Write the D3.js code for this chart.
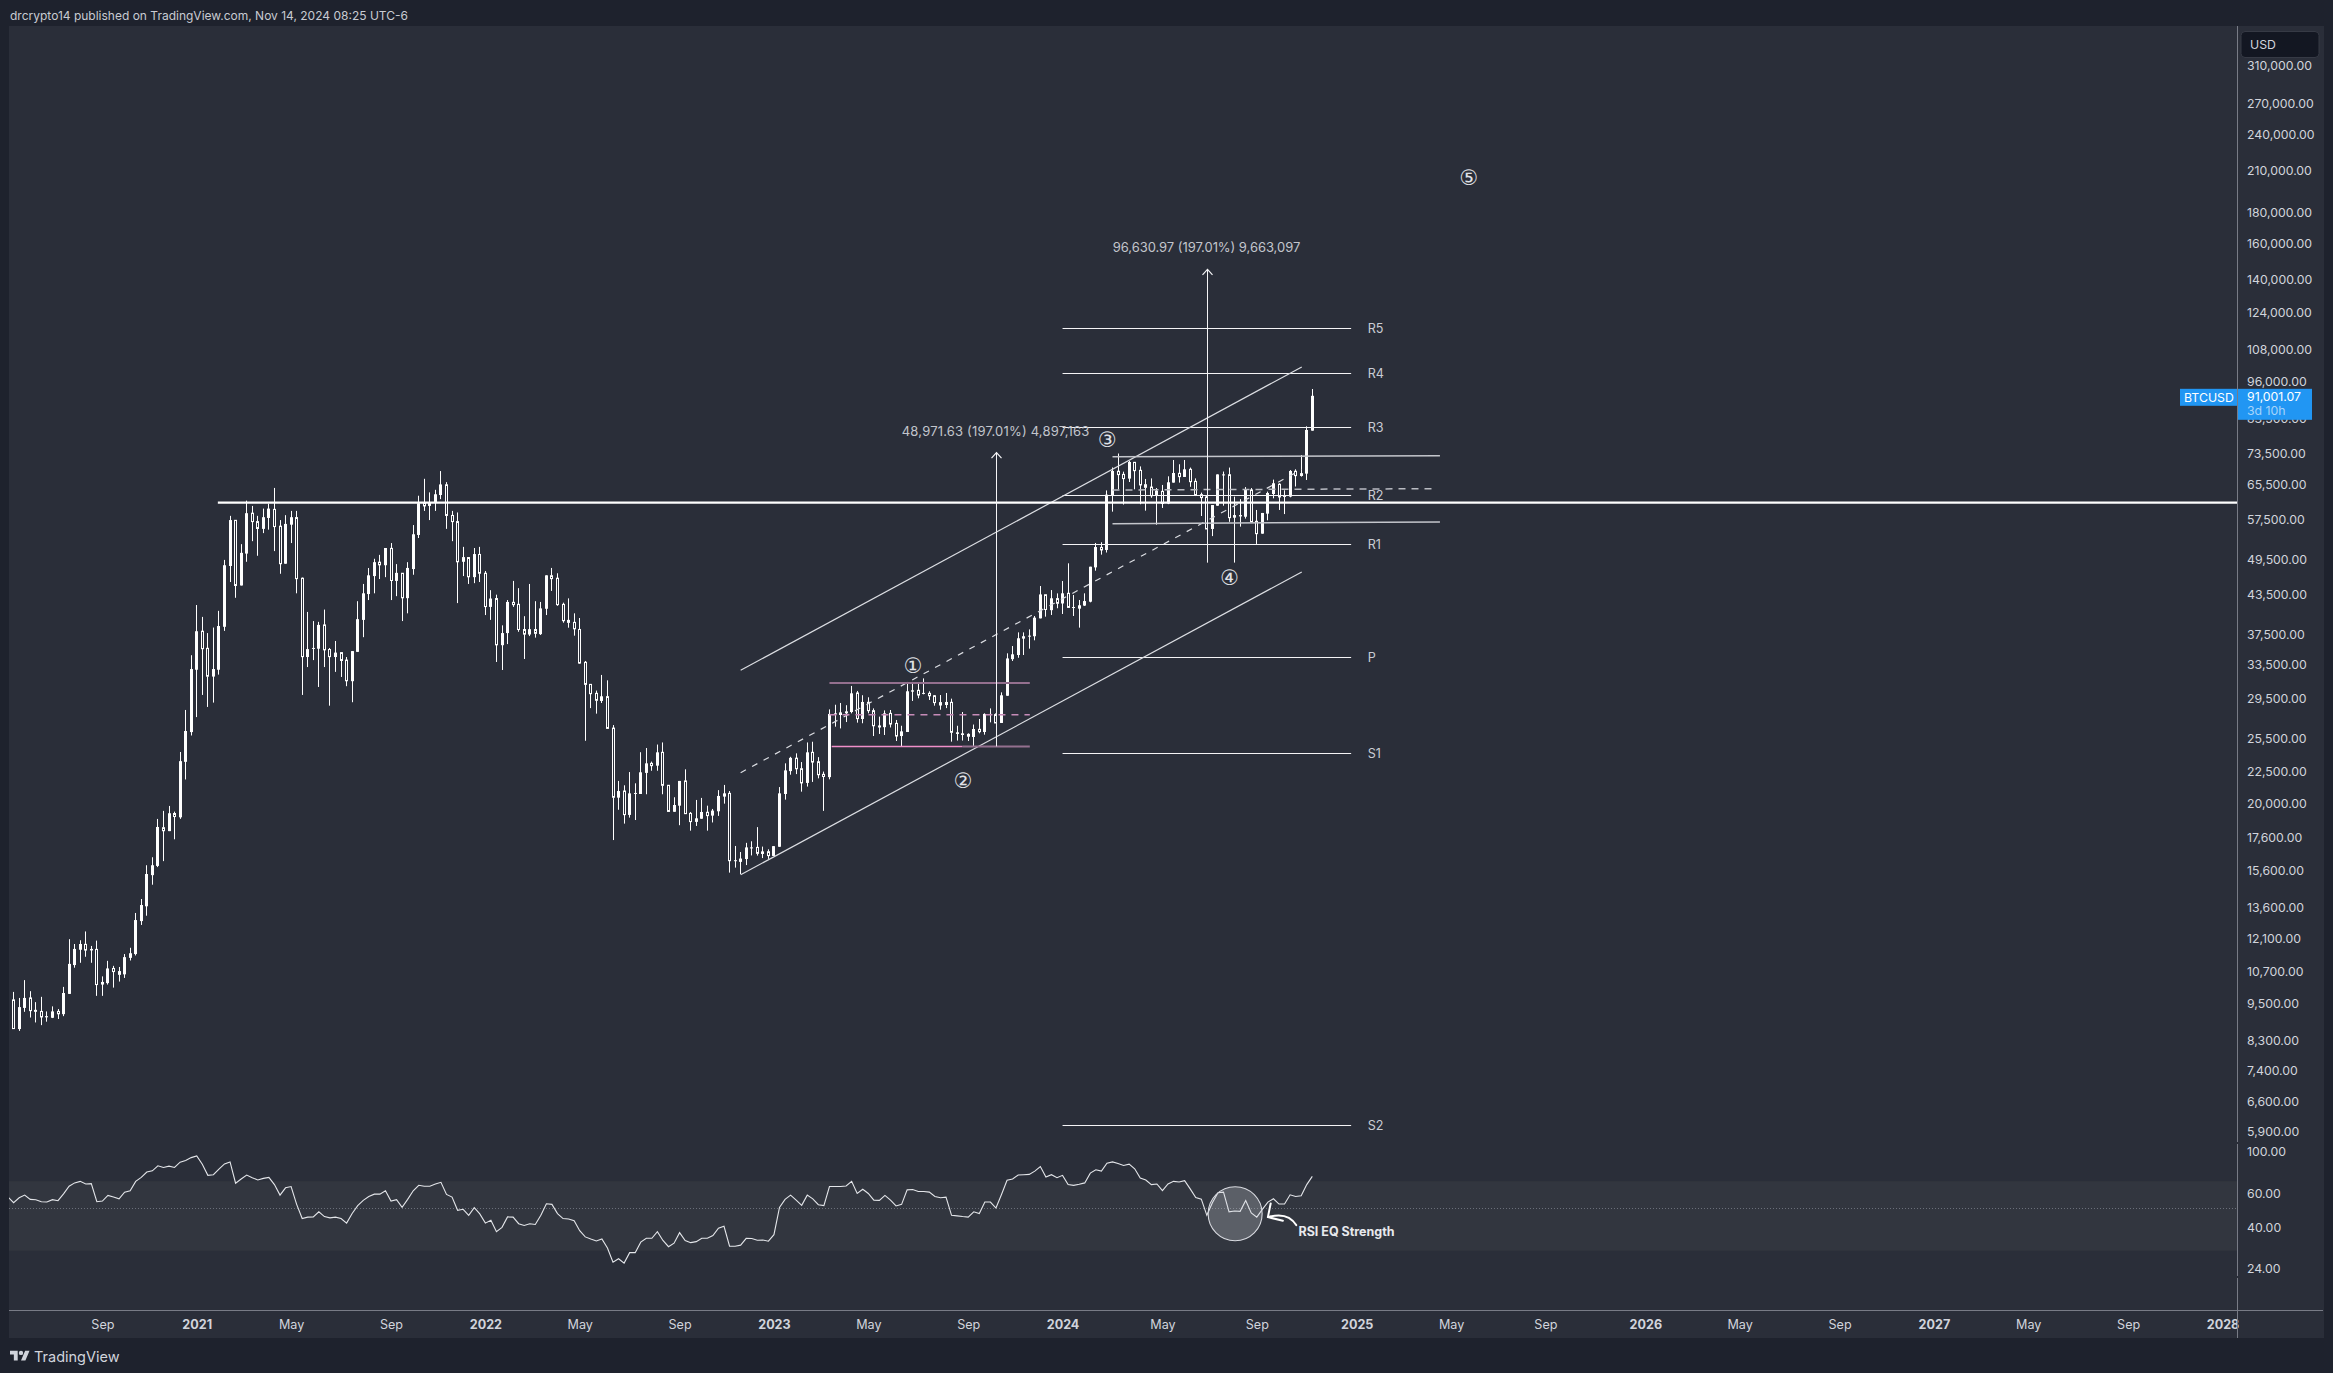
<!DOCTYPE html>
<html>
<head>
<meta charset="utf-8">
<script src="https://cdn.jsdelivr.net/npm/d3@7"></script>
<style>
  html, body { margin: 0; padding: 0; background: #1e222d; }
  svg { display: block; }
  text { font-family: Inter, "Noto Sans", sans-serif; }
</style>
</head>
<body>
<div id="chart"></div>
<script>
// weekly candles, first bar is the week of 2020-05-18
const highs = [9930,9710,10375,9957,9560,9750,9236,9410,9317,10117,12080,11865,12032,12432,11780,12015,10520,11145,10940,10895,11430,11700,13315,14025,15900,16380,18885,19460,19820,19405,24220,28315,34705,41820,40015,37680,38460,40925,49455,58250,57290,52435,61640,60440,58250,59845,60960,64620,57345,58400,59330,59330,46320,40760,39400,39285,41120,35650,36590,35040,34470,35240,42420,45225,47990,49660,50390,51690,52650,48690,47060,49040,56290,62770,66850,63560,64170,68800,66030,59330,58990,51910,49890,51690,51910,47460,44195,43460,38780,42600,45740,44530,40120,45225,42420,42300,46700,48000,47060,42190,42870,40550,39850,33970,31140,30430,32250,31610,26770,21750,21400,22480,21560,24200,24580,23370,24900,25095,21400,20470,21750,22710,19380,20265,20420,19840,19600,21020,21430,20950,17080,16700,17280,17380,18320,17040,16870,17070,21260,23220,23790,24100,23330,25095,25160,23760,22520,28375,28870,29060,28820,30960,30390,29910,29680,28480,27620,28270,28310,27280,26700,31420,31420,31380,31840,30350,29930,29930,30160,29530,26700,28100,25960,26820,27380,27960,28480,27960,30230,34950,35910,37780,37780,38200,40140,44880,43450,44210,43670,45720,48830,43410,42610,43680,48220,52670,52800,64020,69730,73440,68650,71420,71070,70000,66810,66950,64600,65340,67470,71690,70560,71690,69700,66950,63500,62940,60640,67950,68680,69700,62560,61990,64830,64600,59540,58880,63740,66650,65750,64060,69060,69250,73020,81250,93330];
const opens = [9640,8650,9357,9710,9222,9236,9035,9020,9236,9142,9857,10972,11615,11850,11585,11630,10205,10260,10835,10710,10600,11270,11430,12920,13650,15325,15860,18280,18050,19270,19000,23350,26080,32880,37940,35605,32055,32880,38570,48350,57290,44970,50630,58830,57020,55500,57800,59670,56055,48760,56370,57880,46200,34470,35550,35550,38840,35450,34470,35040,34080,31510,35140,39570,43560,46570,49040,48485,51620,45740,47060,42900,47800,54260,61050,60440,61230,62940,65380,58340,57020,49110,49890,46385,50470,47060,41530,42840,36020,37680,42240,41930,38180,37480,38180,37530,41240,46630,46200,41925,39500,39210,38190,33800,31140,30120,29280,29750,26470,20440,20950,19170,20730,20720,22410,23220,23020,24190,21400,19395,19840,21750,19280,18680,18900,19360,19120,19430,20520,20770,16140,16100,16270,16950,16990,16580,16720,16460,17030,20720,22560,23670,22760,21590,24190,23360,22290,22060,27900,27790,27960,28100,30160,27380,29130,28240,26530,26560,27960,26940,25700,26090,30310,30460,30090,30120,29850,29100,28840,29130,25900,25800,25860,25610,26350,26090,27830,27830,26980,29850,34200,34730,36910,37240,37240,39800,43450,41030,42830,42060,43680,41430,41260,41730,42340,48100,51800,51320,62900,68750,67960,66900,71070,68990,65400,64830,62940,63800,60990,65910,68230,67310,69250,66220,63020,62490,55480,60490,67710,67870,57860,58130,58060,64140,57080,54520,58730,63180,65510,62570,62570,68750,67560,68150,79950];
const closes = [8665,9385,9710,9263,9290,9048,9075,9236,9155,9890,11020,11650,11865,11600,11650,10205,10305,10835,10710,10600,11300,11465,12970,13715,15390,15900,18330,18075,19290,19055,23410,26185,32965,37940,35555,32100,32965,38680,48485,57345,44970,50770,58830,57020,55580,57960,59845,55975,48760,56530,57960,46130,34520,35500,35655,38840,35400,34520,35040,34030,31560,35240,39680,43680,46700,49040,48555,51690,45810,47130,42960,48000,54400,61050,60440,61230,63120,65470,58340,57020,49110,49970,46450,50540,47060,41580,42840,36070,37680,42300,41880,38180,37530,38230,37640,41300,46700,46130,41880,39455,39210,38285,33700,31140,30080,29350,29790,26440,20470,20950,19190,20770,20800,22460,23220,23020,24190,21400,19420,19890,21750,19260,18700,18930,19380,19120,19480,20570,20770,16170,16200,16300,16990,16990,16620,16740,16480,17070,20770,22620,23700,22760,21590,24190,23330,22260,22110,27900,27960,28060,28170,30120,27420,29170,28240,26700,26730,27960,26870,25700,26150,30350,30460,29930,30170,29850,29100,28840,29170,26060,26060,25960,25680,26380,26120,27900,27900,26980,29900,34290,34820,36960,37240,37320,39900,43500,41130,42880,42090,43680,41450,41510,41780,42440,48220,51880,51320,63030,68830,67900,66900,71160,68900,65340,64770,62780,63970,60990,65990,68310,67390,69250,66140,62940,62330,55480,60640,67950,67950,57860,58420,58420,64300,57000,54520,58880,63420,65750,62490,62730,68830,67640,68270,80150,91001];
const lows = [8665,8590,9222,9028,8865,8777,8890,9010,8980,9075,9857,10865,11065,11315,11065,9785,9785,10205,10090,10320,10460,11160,11370,12735,13180,14790,15790,16145,18050,17510,18890,21870,25750,27575,29940,28635,29100,32290,37990,45550,42960,44970,49110,53020,50220,54630,55340,51100,46970,48760,52650,43680,29940,33210,34080,30840,33210,28770,32620,32010,30930,29140,35140,37110,42600,43680,46060,46385,42600,43220,39400,40550,46800,53640,59330,57345,59330,61980,55500,53020,42120,46570,45225,45360,45550,40290,39570,33840,32850,36170,41530,37860,34220,37260,37050,37420,40290,44070,41700,39160,38440,37320,33630,25250,28510,27930,29060,26440,17460,19540,18560,18980,18810,20720,20700,22590,22590,20700,19420,19395,18450,19260,18080,18400,18900,18080,18640,19100,19990,15470,15760,15385,15910,16490,16480,16330,16280,16460,17030,20290,22260,22310,20900,21300,21670,21960,19460,21880,26610,26440,27070,27960,27010,26950,27960,25700,25900,25800,26530,25230,24700,26090,29280,29570,30010,29385,28770,28340,28510,25170,25270,25270,25230,24760,25960,25830,27040,26980,26980,29850,33970,34380,34730,35560,36680,39800,40050,40300,41320,40450,41430,40150,38450,41680,42240,47510,50430,50830,59170,64300,60750,66060,64300,60820,59390,62310,56370,59990,60840,65910,65910,67310,64890,62700,58220,55480,54030,60490,60490,56970,48960,55960,57660,57000,52470,54520,57300,62170,59540,58640,62410,64960,67390,66560,79950];

// weekly RSI, first point sits one week before the first candle
const rsiValues = [57.7,53.9,57.2,59.1,56.1,55.9,54.5,54.3,55.9,55.2,60.0,65.9,68.6,69.9,67.7,68.0,54.5,55.0,58.9,57.7,56.5,61.3,62.3,69.9,73.4,78.3,79.5,84.5,82.8,84.2,82.8,88.3,90.1,93.4,95.3,86.2,75.2,75.8,81.2,86.5,88.6,68.3,71.9,75.5,73.1,71.1,72.5,73.4,67.2,59.1,64.6,65.6,52.8,44.4,45.2,45.3,48.2,45.5,44.8,45.2,44.4,42.0,47.2,52.0,55.4,58.1,59.8,59.8,62.3,55.0,55.9,50.9,56.1,62.3,66.6,65.9,65.9,67.7,69.1,59.6,57.7,49.1,49.7,46.2,50.7,47.0,42.0,43.5,37.8,39.9,45.3,45.2,41.7,40.8,41.7,41.3,46.2,53.2,52.8,47.2,44.4,44.2,43.2,38.3,35.5,34.6,33.8,34.6,31.0,26.1,27.2,25.8,29.3,29.3,33.3,34.9,34.9,37.8,34.0,31.5,32.9,37.4,34.0,33.1,33.5,34.9,34.9,36.1,39.5,40.4,31.7,31.7,32.1,34.9,34.8,34.1,34.2,33.7,36.5,50.9,56.1,59.1,55.6,52.2,59.1,56.5,52.6,52.0,65.6,65.6,65.6,66.1,69.9,60.3,63.5,60.3,55.6,55.4,58.9,55.6,51.8,52.8,63.0,63.3,61.8,61.8,61.3,58.1,57.2,57.7,46.2,45.9,45.5,45.2,48.2,47.2,54.3,54.3,50.5,59.6,70.8,71.9,75.5,75.8,76.1,79.2,83.8,73.7,75.8,73.1,75.2,67.2,66.6,67.5,68.6,77.3,80.5,79.2,87.2,88.6,86.9,84.8,86.2,81.5,72.8,71.1,67.2,67.7,62.5,67.7,69.9,69.4,70.5,63.8,57.4,56.3,46.2,53.9,60.8,61.3,48.2,48.7,48.5,55.4,47.6,45.2,49.7,54.3,56.5,53.0,53.0,59.3,58.1,58.6,67.2,74.3];

const priceTicks = [310000,270000,240000,210000,180000,160000,140000,124000,108000,96000,83500,73500,65500,57500,49500,43500,37500,33500,29500,25500,22500,20000,17600,15600,13600,12100,10700,9500,8300,7400,6600,5900];
const rsiTicks = [100,60,40,24];
const timeTickDates = ['2020-09-07','2021-01-04','2021-05-03','2021-09-06','2022-01-03','2022-05-02','2022-09-05','2023-01-02','2023-05-01','2023-09-04','2024-01-01','2024-05-06','2024-09-02','2025-01-06','2025-05-05','2025-09-01','2026-01-05','2026-05-04','2026-09-07','2027-01-04','2027-05-03','2027-09-06','2028-01-03'];
const timeTickLabels = ['Sep','2021','May','Sep','2022','May','Sep','2023','May','Sep','2024','May','Sep','2025','May','Sep','2026','May','Sep','2027','May','Sep','2028'];

const pivotLabels = ['R5','R4','R3','R2','R1','P','S1','S2'];
const pivotValues = [116950,98950,80970,62860,52410,34430,24100,6040];
const pivotWeeks = [189,241];

const resistanceLevel = 61190;
const resistanceStartWeek = 36.8;

// channel: [week, price] pairs
const channelLower = [[131,15350],[232.1,47290]];
const channelUpper = [[131,32810],[232.1,101300]];
const channelMiddle = [[131,22430],[232.1,69220]];

// ranges: [startWeek, endWeek, startPrice, endPrice]
const pinkTop = [147,183.1,31300,31300];
const pinkMid = [147,183.1,27810,27810];
const pinkLowBright = [147.4,171,24730,24730];
const pinkLowMuted = [171,183.1,24730,24730];
const grayTop = [198,257,72570,72850];
const grayMid = [198,256.5,64130,64440];
const grayLow = [198,257,56580,56950];

const projections = [
  { week: 177.1, from: 24730, to: 73700, label: '48,971.63 (197.01%) 4,897,163' },
  { week: 215.1, from: 48950, to: 145580, label: '96,630.97 (197.01%) 9,663,097' },
];
const waveLabels = ['①','②','③','④','⑤'];
const waveWeeks = [162.1,171.1,197.1,219.1,262.2];
const wavePrices = [33380,21770,77320,46300,204080];

const rsiCircle = { week: 220.1, value: 47.1 };
const rsiArrowCurve = [[231.1,41.0],[229.6,48.5],[226,45.2]];
const rsiArrowHead = [[226.5,53.4],[226,45.2],[228.7,43.2]];

const lastPrice = 91001.07;

const W = 2333, H = 1373;
const panel = { left: 9, right: 2324, top: 26, bottom: 1338 };
const axisX = 2237;
const pricePane = { top: 26, bottom: 1143 };
const rsiPane = { top: 1143, bottom: 1277 };
const timeAxisY = 1310;
const axisFont = 12.3;

const FG = '#d1d4dc', BG = '#2a2e39';

const startDate = new Date(Date.UTC(2020, 4, 18));
const endTickDate = new Date(Date.UTC(2028, 0, 3));
const weekDate = (i) => new Date(+startDate + i * 7 * 864e5);

const x = d3.scaleUtc().domain([startDate, endTickDate]).range([13.6, 2222.5]);
const wx = (i) => x(weekDate(i));
const y = d3.scaleLog().domain([310000, 5900]).range([66, 1132]);
const r = d3.scaleLog().domain([100, 24]).range([1152, 1269]);

const crisp = (v) => Math.round(v - 0.5) + 0.5;

const svg = d3.select('#chart').append('svg').attr('width', W).attr('height', H);

svg.append('rect').attr('width', W).attr('height', H).attr('fill', '#1e222d');
svg.append('rect')
  .attr('x', panel.left).attr('y', panel.top)
  .attr('width', panel.right - panel.left).attr('height', panel.bottom - panel.top)
  .attr('fill', BG);

const defs = svg.append('defs');
defs.append('clipPath').attr('id', 'price-clip').append('rect')
  .attr('x', panel.left).attr('y', pricePane.top)
  .attr('width', axisX - panel.left).attr('height', pricePane.bottom - pricePane.top);
defs.append('clipPath').attr('id', 'rsi-clip').append('rect')
  .attr('x', panel.left).attr('y', rsiPane.top)
  .attr('width', axisX - panel.left).attr('height', rsiPane.bottom - rsiPane.top);

// rsi pane
const gRsi = svg.append('g').attr('clip-path', 'url(#rsi-clip)');
gRsi.append('rect')
  .attr('x', panel.left).attr('width', axisX - panel.left)
  .attr('y', r(70)).attr('height', r(30) - r(70))
  .attr('fill', '#32363f');
gRsi.append('line')
  .attr('x1', panel.left).attr('x2', axisX)
  .attr('y1', crisp(r(50))).attr('y2', crisp(r(50)))
  .attr('stroke', '#6b6f7a').attr('stroke-width', 1).attr('stroke-dasharray', '1 2');
gRsi.append('path')
  .attr('d', d3.line().x((d, i) => wx(i - 1)).y((d) => r(d))(rsiValues))
  .attr('fill', 'none').attr('stroke', '#e4e6ea').attr('stroke-width', 1.1);
gRsi.append('circle')
  .attr('cx', wx(rsiCircle.week)).attr('cy', r(rsiCircle.value)).attr('r', 27)
  .attr('fill', 'rgba(209,212,220,0.26)').attr('stroke', '#d8dae0').attr('stroke-width', 1.1);

const arrowCurve = rsiArrowCurve.map((d) => [wx(d[0]), r(d[1])]);
gRsi.append('path')
  .attr('d', `M${arrowCurve[0]}Q${arrowCurve[1]} ${arrowCurve[2]}`)
  .attr('fill', 'none').attr('stroke', '#fff').attr('stroke-width', 2).attr('stroke-linecap', 'round');
gRsi.append('path')
  .attr('d', d3.line().x((d) => wx(d[0])).y((d) => r(d[1]))(rsiArrowHead))
  .attr('fill', 'none').attr('stroke', '#fff').attr('stroke-width', 2)
  .attr('stroke-linecap', 'round').attr('stroke-linejoin', 'round');
gRsi.append('text')
  .attr('x', wx(231.5)).attr('y', r(37.9))
  .attr('dominant-baseline', 'central')
  .attr('font-size', 12.5).attr('font-weight', 700).attr('fill', '#e8e9ed')
  .text('RSI EQ Strength');

// candles
const gPrice = svg.append('g').attr('clip-path', 'url(#price-clip)');
const candles = closes.map((c, i) => ({ i, o: opens[i], h: highs[i], l: lows[i], c }));
const candle = gPrice.append('g').selectAll('g').data(candles).join('g')
  .attr('transform', (d) => `translate(${crisp(wx(d.i))},0)`);
candle.append('line')
  .attr('y1', (d) => y(d.h)).attr('y2', (d) => y(d.l))
  .attr('stroke', '#fff').attr('stroke-width', 1);
candle.filter((d) => d.c >= d.o).append('rect')
  .attr('x', -1.5).attr('width', 3)
  .attr('y', (d) => y(d.c))
  .attr('height', (d) => Math.max(1, y(d.o) - y(d.c)))
  .attr('fill', '#fff');
candle.filter((d) => d.c < d.o).append('rect')
  .attr('x', -1).attr('width', 2)
  .attr('y', (d) => y(d.o))
  .attr('height', (d) => Math.max(1, y(d.c) - y(d.o)))
  .attr('fill', BG).attr('stroke', '#fff').attr('stroke-width', 1);

// pivots
const gPivot = gPrice.append('g');
pivotLabels.forEach((name, i) => {
  const py = crisp(y(pivotValues[i]));
  gPivot.append('line')
    .attr('x1', wx(pivotWeeks[0])).attr('x2', wx(pivotWeeks[1]))
    .attr('y1', py).attr('y2', py)
    .attr('stroke', '#f4f4f6').attr('stroke-width', 1);
  gPivot.append('text')
    .attr('x', wx(pivotWeeks[1]) + 16.5).attr('y', py - 0.5)
    .attr('dominant-baseline', 'central')
    .attr('font-size', 12.6).attr('fill', '#c9ccd4')
    .text(name);
});

// channel
const chanLine = d3.line().x((d) => wx(d[0])).y((d) => y(d[1]));
[channelLower, channelUpper].forEach((c) => {
  gPrice.append('path').attr('d', chanLine(c))
    .attr('fill', 'none').attr('stroke', '#dcdee3').attr('stroke-width', 1.2);
});
gPrice.append('path').attr('d', chanLine(channelMiddle))
  .attr('fill', 'none').attr('stroke', '#dcdee3').attr('stroke-width', 1.2).attr('stroke-dasharray', '6 7');

// ranges
const rangeLine = (s, color, width, dash) => {
  gPrice.append('line')
    .attr('x1', wx(s[0])).attr('x2', wx(s[1]))
    .attr('y1', y(s[2])).attr('y2', y(s[3]))
    .attr('stroke', color).attr('stroke-width', width)
    .attr('stroke-dasharray', dash || null);
};
rangeLine(pinkTop, '#94708f', 2);
rangeLine(pinkMid, '#c68bb8', 1.5, '7 6');
rangeLine(pinkLowBright, '#f08fc9', 1.5);
rangeLine(pinkLowMuted, '#94708f', 2);
rangeLine(grayTop, '#c4c6cc', 1.5);
rangeLine(grayMid, '#b9bbc2', 1.5, '7 6');
rangeLine(grayLow, '#c4c6cc', 1.5);

// main horizontal
gPrice.append('line')
  .attr('x1', wx(resistanceStartWeek)).attr('x2', axisX)
  .attr('y1', y(resistanceLevel)).attr('y2', y(resistanceLevel))
  .attr('stroke', '#fff').attr('stroke-width', 2.4);

// projection arrows
projections.forEach((p) => {
  const px = crisp(wx(p.week));
  gPrice.append('line')
    .attr('x1', px).attr('x2', px).attr('y1', y(p.from)).attr('y2', y(p.to))
    .attr('stroke', '#f4f4f6').attr('stroke-width', 1);
  gPrice.append('path')
    .attr('d', `M${px - 5},${y(p.to) + 5.5}L${px},${y(p.to)}L${px + 5},${y(p.to) + 5.5}`)
    .attr('fill', 'none').attr('stroke', '#f4f4f6').attr('stroke-width', 1.2);
  gPrice.append('text')
    .attr('x', px - 1).attr('y', y(p.to) - 22)
    .attr('text-anchor', 'middle').attr('dominant-baseline', 'central')
    .attr('font-size', 13).attr('fill', '#c2c5cc')
    .attr('textLength', 187.5).attr('lengthAdjust', 'spacing')
    .text(p.label);
});

// wave counts
gPrice.selectAll('text.wave').data(waveLabels).join('text')
  .attr('class', 'wave')
  .attr('x', (d, i) => wx(waveWeeks[i])).attr('y', (d, i) => y(wavePrices[i]))
  .attr('text-anchor', 'middle').attr('dominant-baseline', 'central')
  .attr('font-size', 21).attr('fill', '#e0e2e7')
  .style('font-family', '"DejaVu Sans"')
  .text((d) => d);

// time axis
const timeAxis = d3.axisBottom(x)
  .tickValues(timeTickDates.map((d) => new Date(d + 'T00:00:00Z')))
  .tickFormat((d, i) => timeTickLabels[i])
  .tickSize(0).tickPadding(10);
const gTime = svg.append('g').attr('transform', `translate(0,${timeAxisY})`).call(timeAxis);
gTime.select('.domain').remove();
gTime.selectAll('text')
  .attr('font-family', null)
  .attr('font-size', 12.6)
  .attr('fill', FG)
  .attr('font-weight', (d, i) => (timeTickLabels[i].length === 4 ? 700 : 400));
svg.append('line')
  .attr('x1', panel.left).attr('x2', panel.right - 1)
  .attr('y1', timeAxisY + 0.5).attr('y2', timeAxisY + 0.5)
  .attr('stroke', '#787b86');

// price and rsi axes
const fmt = d3.format(',.2f');
const styleAxis = (g) => {
  g.select('.domain').remove();
  g.selectAll('text').attr('font-size', axisFont).attr('fill', FG).attr('font-family', null);
};
svg.append('g').attr('transform', `translate(${axisX},0)`)
  .call(d3.axisRight(y).tickValues(priceTicks).tickFormat(fmt).tickSize(0).tickPadding(10))
  .call(styleAxis);
svg.append('g').attr('transform', `translate(${axisX},0)`)
  .call(d3.axisRight(r).tickValues(rsiTicks).tickFormat(fmt).tickSize(0).tickPadding(10))
  .call(styleAxis);
[[panel.top, 1142], [1144, 1276], [1278, panel.bottom]].forEach((s) => {
  svg.append('line')
    .attr('x1', axisX + 0.5).attr('x2', axisX + 0.5)
    .attr('y1', s[0]).attr('y2', s[1])
    .attr('stroke', '#787b86');
});

// currency button
svg.append('rect')
  .attr('x', 2241).attr('y', 31.5).attr('width', 78).attr('height', 26).attr('rx', 4)
  .attr('fill', '#131722').attr('stroke', '#363a45');
svg.append('text')
  .attr('x', 2250).attr('y', 44.5).attr('dominant-baseline', 'central')
  .attr('font-size', axisFont).attr('fill', FG).text('USD');

// last price label
const lastY = y(lastPrice);
svg.append('rect')
  .attr('x', 2180).attr('y', lastY - 7).attr('width', 57).attr('height', 17)
  .attr('fill', '#2196f3');
svg.append('rect')
  .attr('x', 2238).attr('y', lastY - 7).attr('width', 74).attr('height', 31)
  .attr('fill', '#2196f3');
svg.append('text')
  .attr('x', 2184).attr('y', lastY + 1.5).attr('dominant-baseline', 'central')
  .attr('font-size', axisFont).attr('fill', '#fff').text('BTCUSD');
svg.append('text')
  .attr('x', 2247).attr('y', lastY + 1).attr('dominant-baseline', 'central')
  .attr('font-size', axisFont).attr('fill', '#fff').text(fmt(lastPrice));
svg.append('text')
  .attr('x', 2247).attr('y', lastY + 15).attr('dominant-baseline', 'central')
  .attr('font-size', axisFont).attr('fill', '#a6d4fa').text('3d 10h');

// header and footer
svg.append('text')
  .attr('x', 10).attr('y', 15.5).attr('dominant-baseline', 'central')
  .attr('font-size', 12).attr('fill', '#c8cbd2')
  .text('drcrypto14 published on TradingView.com, Nov 14, 2024 08:25 UTC-6');

const logo = svg.append('g').attr('transform', 'translate(10,1348.5) scale(0.55)').attr('fill', '#d1d4dc');
logo.append('path').attr('d', 'M14 22H7V11H0V4h14v18ZM28 22h-8l7.5-18h8L28 22Z');
logo.append('circle').attr('cx', 20).attr('cy', 8).attr('r', 4);
svg.append('text')
  .attr('x', 34).attr('y', 1356).attr('dominant-baseline', 'central')
  .attr('font-size', 14.5).attr('fill', '#d1d4dc').text('TradingView');
</script>
</body>
</html>
